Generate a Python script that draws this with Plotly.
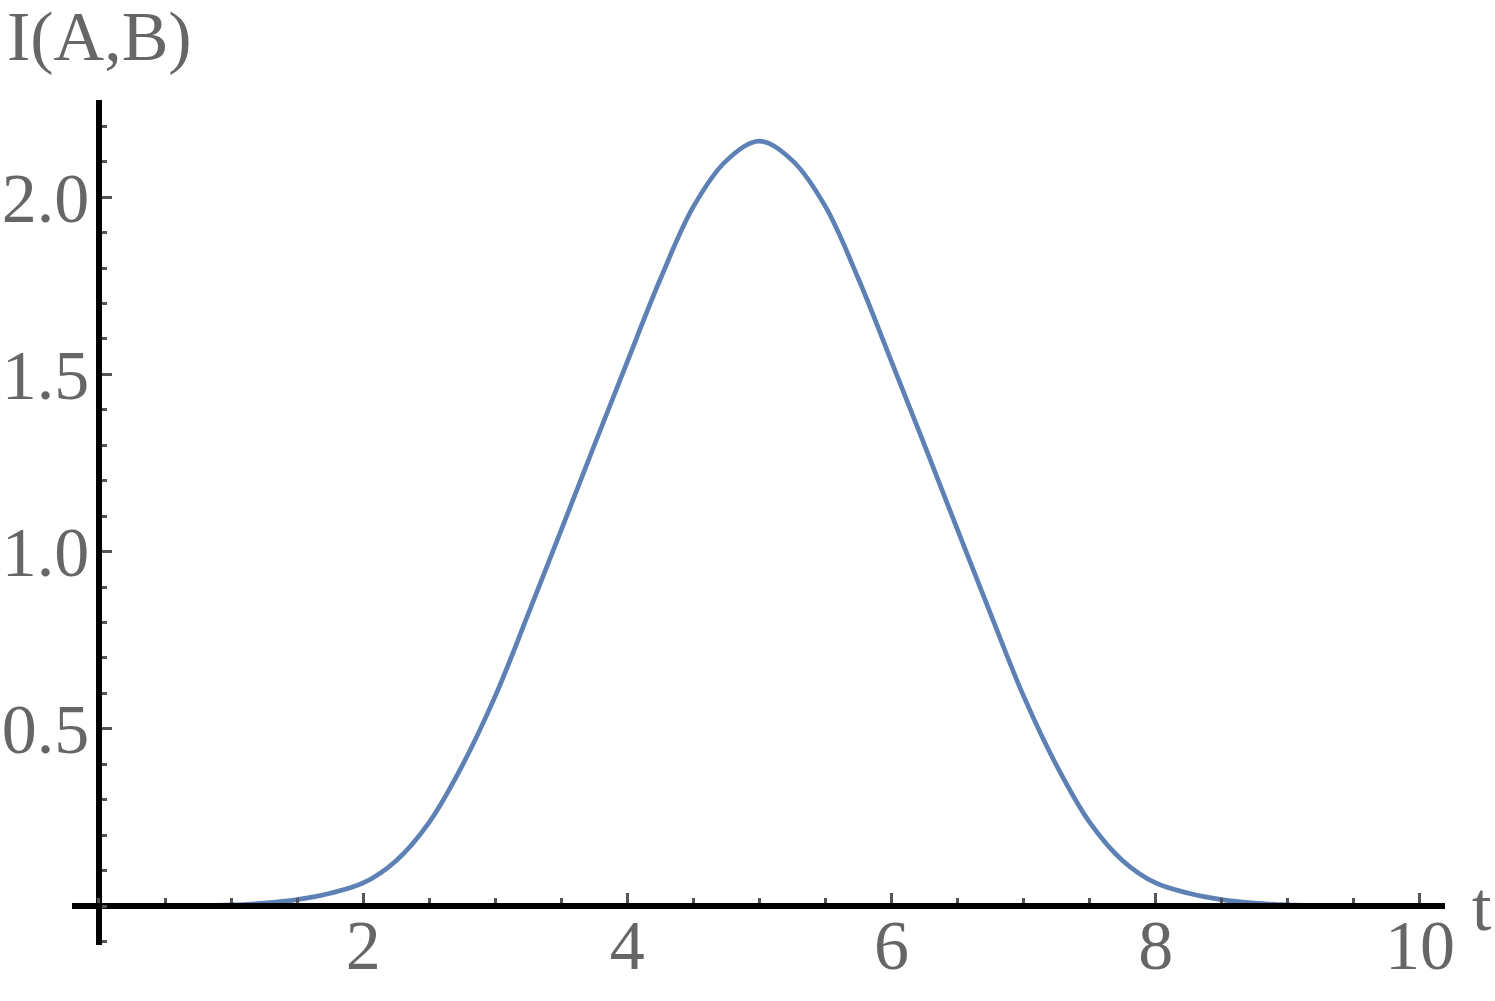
import plotly.graph_objects as go

# Data
t_vals = [0.0, 0.25, 0.5, 0.75, 1.0, 1.25, 1.5, 1.75, 2.0, 2.25, 2.5, 2.75, 3.0, 3.25, 3.5, 3.75,
          4.0, 4.25, 4.5, 4.75, 5.0, 5.25, 5.5, 5.75, 6.0, 6.25, 6.5, 6.75, 7.0, 7.25, 7.5, 7.75,
          8.0, 8.25, 8.5, 8.75, 9.0, 9.25, 9.5, 9.75, 10.0]
i_vals = [0.000, 0.000, 0.000, 0.001, 0.003, 0.008, 0.018, 0.036, 0.065, 0.128, 0.236, 0.396,
          0.592, 0.824, 1.061, 1.300, 1.536, 1.769, 1.973, 2.103, 2.158, 2.103, 1.973, 1.769,
          1.536, 1.300, 1.061, 0.824, 0.592, 0.396, 0.236, 0.128, 0.065, 0.036, 0.018, 0.008,
          0.003, 0.001, 0.000, 0.000, 0.000]

x_tickvals = [2, 4, 6, 8, 10]
x_ticktext = ["2", "4", "6", "8", "10"]
y_tickvals = [0.5, 1.0, 1.5, 2.0]
y_ticktext = ["0.5", "1.0", "1.5", "2.0"]

X_RANGE = [-0.204, 10.19]
Y_RANGE = [-0.110, 2.274]

FONT = "Liberation Serif, Times New Roman, serif"
GRAY = "#666666"
TICK = "#555555"
FS = 70

W, H = 1495, 1001
L, R, T, B = 72, 50, 100, 56
PW, PH = W - L - R, H - T - B

fig = go.Figure()
fig.add_trace(go.Scatter(x=t_vals, y=i_vals, mode="lines",
                         line=dict(color="#5E81B5", width=4.7, shape="spline", smoothing=1.0),
                         showlegend=False, hoverinfo="skip"))

xpos = (0 - Y_RANGE[0]) / (Y_RANGE[1] - Y_RANGE[0])
ypos = (0 - X_RANGE[0]) / (X_RANGE[1] - X_RANGE[0])

fig.update_layout(
    width=W, height=H,
    margin=dict(l=L, r=R, t=T, b=B, autoexpand=False),
    paper_bgcolor="white", plot_bgcolor="white",
    xaxis=dict(range=X_RANGE, anchor="free", position=xpos, automargin=False,
               showgrid=False, zeroline=False,
               showline=True, linecolor="black", linewidth=5.5,
               tickmode="array", tickvals=x_tickvals, ticktext=x_ticktext,
               ticks="inside", ticklen=10, tickwidth=3, tickcolor=TICK,
               ticklabelstandoff=-24,
               tickfont=dict(family=FONT, size=FS, color=GRAY),
               minor=dict(ticks="inside", tick0=0, dtick=0.5, ticklen=5, tickwidth=3, tickcolor=TICK, showgrid=False)),
    yaxis=dict(range=Y_RANGE, anchor="free", position=ypos, automargin=False,
               showgrid=False, zeroline=False,
               showline=True, linecolor="black", linewidth=5.5,
               tickmode="array", tickvals=y_tickvals, ticktext=y_ticktext,
               ticks="inside", ticklen=10, tickwidth=3, tickcolor=TICK,
               ticklabelstandoff=-7,
               tickfont=dict(family=FONT, size=FS, color=GRAY),
               minor=dict(ticks="inside", tick0=0, dtick=0.1, ticklen=5, tickwidth=3, tickcolor=TICK, showgrid=False)),
    annotations=[
        dict(text="I(A,B)", xref="paper", yref="paper", x=(5 - L) / PW, y=1 + (T - 36) / PH,
             xanchor="left", yanchor="middle", showarrow=False,
             font=dict(family=FONT, size=FS, color=GRAY)),
        dict(text="t", xref="paper", yref="paper", x=(1470 - L) / PW, y=xpos,
             xanchor="left", yanchor="middle", yshift=0, showarrow=False,
             font=dict(family=FONT, size=FS, color=GRAY)),
    ],
)

fig.write_html("out.html",
               config={"displayModeBar": False},
               post_script="document.body.style.margin='0';document.body.style.overflow='hidden';")
